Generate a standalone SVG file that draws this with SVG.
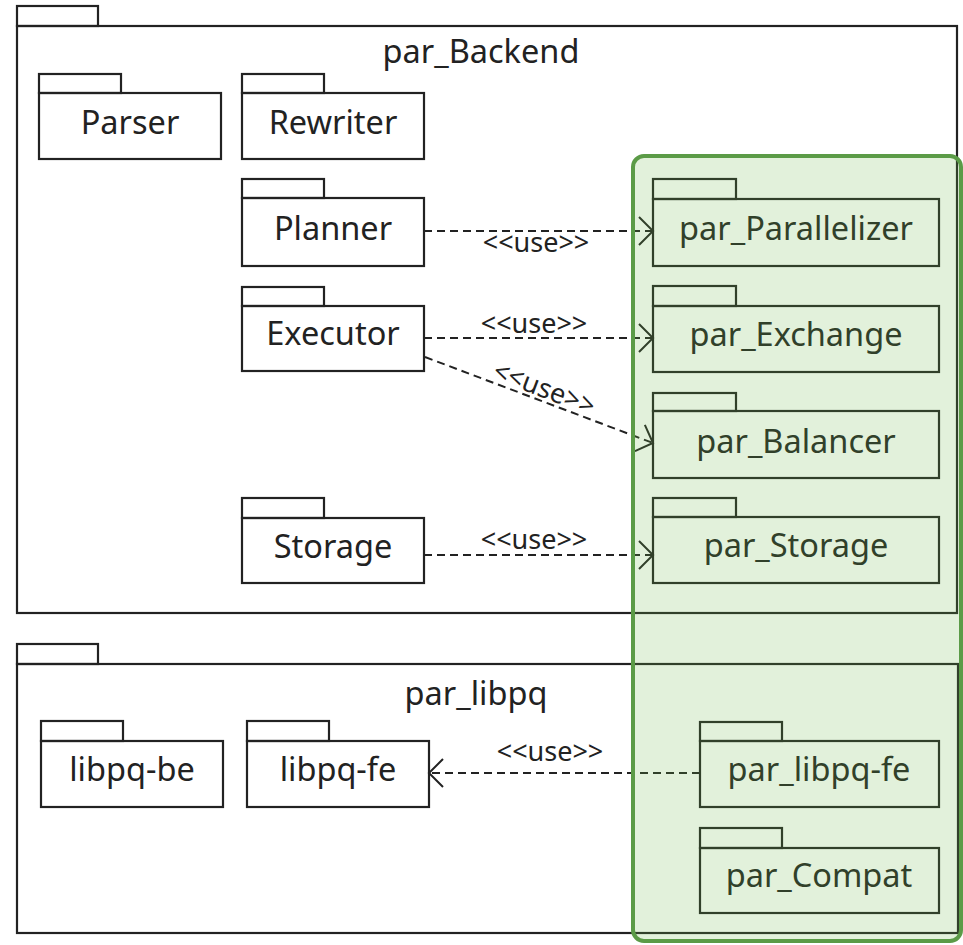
<svg xmlns="http://www.w3.org/2000/svg" width="963" height="945" viewBox="0 0 963 945">
  <style>
    .pkg rect { fill: none; stroke: #222; stroke-width: 2.2; }
    .lbl { font-family: "Noto Sans", "Open Sans", sans-serif; font-size: 32.5px; fill: #222; text-anchor: middle; }
    .use { font-family: "Noto Sans", "Open Sans", sans-serif; font-size: 27px; fill: #222; text-anchor: middle; }
    .dep { fill: none; stroke: #222; stroke-width: 2; stroke-dasharray: 8 5; }
    .highlight { fill: #6cb84a; fill-opacity: 0.2; stroke: #5b9b47; stroke-width: 4; }
  </style>
  <defs>
    <marker id="open-arrow" markerUnits="userSpaceOnUse" markerWidth="32" markerHeight="32" refX="0" refY="0" viewBox="-16 -16 32 32" orient="auto" overflow="visible">
      <path d="M-14,-14 L0,0 L-14,14" fill="none" stroke="#222" stroke-width="2"/>
    </marker>
  </defs>

  <rect width="963" height="945" fill="#fff"/>

  <!-- container packages -->
  <g id="par_Backend" class="pkg">
    <rect x="17" y="6" width="81" height="20"/>
    <rect x="17" y="26" width="940" height="587"/>
    <text class="lbl" x="481" y="63">par_Backend</text>
  </g>
  <g id="par_libpq" class="pkg">
    <rect x="17" y="644" width="81" height="20"/>
    <rect x="17" y="664" width="941" height="269"/>
    <text class="lbl" x="476" y="705">par_libpq</text>
  </g>

  <!-- packages inside par_Backend -->
  <g id="Parser" class="pkg">
    <rect x="39" y="74" width="82" height="19"/>
    <rect x="39" y="93" width="182" height="66"/>
    <text class="lbl" x="130" y="134">Parser</text>
  </g>
  <g id="Rewriter" class="pkg">
    <rect x="242" y="74" width="82" height="19"/>
    <rect x="242" y="93" width="182" height="66"/>
    <text class="lbl" x="333" y="134">Rewriter</text>
  </g>
  <g id="Planner" class="pkg">
    <rect x="242" y="179" width="82" height="19"/>
    <rect x="242" y="198" width="182" height="68"/>
    <text class="lbl" x="333" y="240">Planner</text>
  </g>
  <g id="Executor" class="pkg">
    <rect x="242" y="287" width="82" height="19"/>
    <rect x="242" y="306" width="182" height="65"/>
    <text class="lbl" x="333" y="345">Executor</text>
  </g>
  <g id="Storage" class="pkg">
    <rect x="242" y="498" width="82" height="20"/>
    <rect x="242" y="518" width="182" height="65"/>
    <text class="lbl" x="333" y="558">Storage</text>
  </g>
  <g id="par_Parallelizer" class="pkg">
    <rect x="653" y="179" width="83" height="20"/>
    <rect x="653" y="199" width="286" height="67"/>
    <text class="lbl" x="796" y="240">par_Parallelizer</text>
  </g>
  <g id="par_Exchange" class="pkg">
    <rect x="653" y="286" width="83" height="20"/>
    <rect x="653" y="306" width="286" height="66"/>
    <text class="lbl" x="796" y="346">par_Exchange</text>
  </g>
  <g id="par_Balancer" class="pkg">
    <rect x="653" y="393" width="83" height="18"/>
    <rect x="653" y="411" width="286" height="67"/>
    <text class="lbl" x="796" y="453">par_Balancer</text>
  </g>
  <g id="par_Storage" class="pkg">
    <rect x="653" y="498" width="83" height="19"/>
    <rect x="653" y="517" width="286" height="66"/>
    <text class="lbl" x="796" y="557">par_Storage</text>
  </g>

  <!-- packages inside par_libpq -->
  <g id="libpq-be" class="pkg">
    <rect x="41" y="721" width="82" height="20"/>
    <rect x="41" y="741" width="182" height="66"/>
    <text class="lbl" x="132" y="781">libpq-be</text>
  </g>
  <g id="libpq-fe" class="pkg">
    <rect x="247" y="721" width="82" height="20"/>
    <rect x="247" y="741" width="182" height="66"/>
    <text class="lbl" x="338" y="781">libpq-fe</text>
  </g>
  <g id="par_libpq-fe" class="pkg">
    <rect x="700" y="722" width="82" height="19"/>
    <rect x="700" y="741" width="239" height="66"/>
    <text class="lbl" x="819" y="781">par_libpq-fe</text>
  </g>
  <g id="par_Compat" class="pkg">
    <rect x="700" y="828" width="82" height="20"/>
    <rect x="700" y="848" width="239" height="65"/>
    <text class="lbl" x="819" y="887">par_Compat</text>
  </g>

  <!-- use dependencies -->
  <g id="connectors">
    <line class="dep" x1="424" y1="231" x2="653" y2="231" marker-end="url(#open-arrow)"/>
    <text class="use" x="536" y="252">&lt;&lt;use&gt;&gt;</text>

    <line class="dep" x1="424" y1="338" x2="653" y2="338" marker-end="url(#open-arrow)"/>
    <text class="use" x="534" y="333">&lt;&lt;use&gt;&gt;</text>

    <line class="dep" x1="425" y1="357" x2="653" y2="443" marker-end="url(#open-arrow)"/>
    <text class="use" transform="translate(541 397) rotate(20.7)">&lt;&lt;use&gt;&gt;</text>

    <line class="dep" x1="424" y1="555" x2="653" y2="555" marker-end="url(#open-arrow)"/>
    <text class="use" x="534" y="549">&lt;&lt;use&gt;&gt;</text>

    <line class="dep" x1="700" y1="773" x2="429" y2="773" marker-end="url(#open-arrow)"/>
    <text class="use" x="550" y="761">&lt;&lt;use&gt;&gt;</text>
  </g>

  <!-- highlighted parallel-extension column -->
  <g id="parallel-extensions">
    <rect class="highlight" x="633" y="156" width="328" height="785" rx="11" ry="11"/>
  </g>
</svg>
